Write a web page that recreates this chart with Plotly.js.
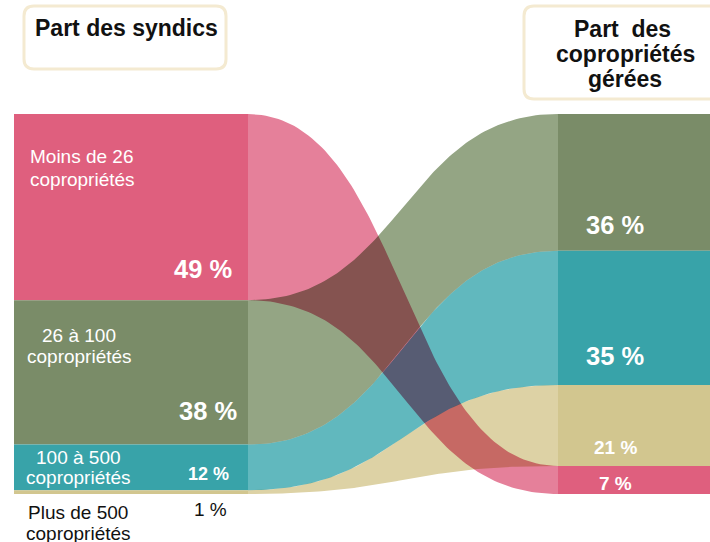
<!DOCTYPE html>
<html><head><meta charset="utf-8">
<script src="https://cdn.plot.ly/plotly-3.0.1.min.js"></script>
<style>
html,body{margin:0;padding:0;background:#fff;}
#chart .scatterlayer .trace{mix-blend-mode:multiply;}
</style></head>
<body><div id="chart" style="width:710px;height:542px;"></div>
<script>
// ---- DATA ----
const categories = ["Moins de 26 copropriétés", "26 à 100 copropriétés", "100 à 500 copropriétés", "Plus de 500 copropriétés"];
const syndicShare = [49, 38, 12, 1];            // % of syndics (left column)
const syndicLabels = ["49 %", "38 %", "12 %", "1 %"];
const coproShare = [7.4, 36, 35.3, 21.3];       // % of managed co-ownerships (right column)
const coproLabels = ["7 %", "36 %", "35 %", "21 %"];
const rightOrder = [1, 2, 3, 0];                // stacking order, top to bottom, of the right column
const nodeColors = ["#DF5F7E", "#7A8C68", "#38A3A9", "#D2C68F"];
const flowColors = ["#E5809A", "#94A584", "#61B8BE", "#DDD2A5"];

// ---- LAYOUT CONSTANTS (pixels) ----
const W = 710, H = 542;
const TOP = 114, PX_PER_PCT = 3.8;
const L0 = 14, L1 = 248, R0 = 558, R1 = 760;
const FN = "'Liberation Sans', Arial, Helvetica, sans-serif";

// cumulative starts
const leftTop = [];
let acc = 0;
for (let i = 0; i < syndicShare.length; i++) { leftTop.push(acc); acc += syndicShare[i]; }
const rightTop = new Array(coproShare.length);
acc = 0;
rightOrder.forEach(i => { rightTop[i] = acc; acc += coproShare[i]; });

const traces = [];
// left nodes
traces.push({
  type: 'bar', x: categories.map(() => (L0 + L1) / 2), base: leftTop, y: syndicShare,
  width: categories.map(() => L1 - L0), marker: { color: nodeColors, line: { width: 0 } },
  hoverinfo: 'skip', showlegend: false
});
// right nodes
traces.push({
  type: 'bar', x: categories.map(() => (R0 + R1) / 2), base: rightTop, y: coproShare,
  width: categories.map(() => R1 - R0), marker: { color: nodeColors, line: { width: 0 } },
  hoverinfo: 'skip', showlegend: false
});
// flows (cubic Bezier ribbons, horizontal tangents at both ends)
const XM = (L1 + R0) / 2;
function bez(p0, p1, p2, p3, t) { const u = 1 - t; return p0 * u * u * u + 3 * p1 * t * u * u + 3 * p2 * t * t * u + p3 * t * t * t; }
const N = 100;
for (let i = 0; i < categories.length; i++) {
  const xs = [], ys = [];
  const a0 = leftTop[i], a1 = leftTop[i] + syndicShare[i];
  const b0 = rightTop[i], b1 = rightTop[i] + coproShare[i];
  for (let k = 0; k <= N; k++) { const t = k / N; xs.push(bez(L1, XM, XM, R0, t)); ys.push(bez(a0, a0, b0, b0, t)); }
  for (let k = N; k >= 0; k--) { const t = k / N; xs.push(bez(L1, XM, XM, R0, t)); ys.push(bez(a1, a1, b1, b1, t)); }
  traces.push({
    type: 'scatter', mode: 'lines', x: xs, y: ys, fill: 'toself', fillcolor: flowColors[i],
    line: { width: 0, color: flowColors[i] }, hoverinfo: 'skip', showlegend: false
  });
}

// ---- annotations ----
const py = y => 1 - y / H;
function ann(text, x, y, o) {
  o = o || {};
  return Object.assign({
    text: text, x: x, y: py(y), xref: 'x', yref: 'paper', showarrow: false,
    xanchor: 'center', yanchor: 'middle',
    font: Object.assign({ family: FN, size: 19, color: '#ffffff' }, o.font || {})
  }, o.pos || {});
}
const TF = { size: 23, color: '#111', weight: 'bold' };
const BIG = { size: 25.5, weight: 'bold' };
const SMALL = { size: 19, weight: 'bold' };
const annotations = [
  ann("Part des syndics", 126, 28, { font: TF }),
  ann("Part\u00a0 des", 622, 29, { font: TF }),
  ann("copropriétés", 625, 54, { font: TF }),
  ann("gérées", 625, 79, { font: TF }),

  ann("Moins de 26", 28, 157, { pos: { xanchor: 'left' } }),
  ann("copropriétés", 28, 179.5, { pos: { xanchor: 'left' } }),
  ann("26 à 100", 79, 335),
  ann("copropriétés", 79, 356),
  ann("100 à 500", 78, 457.5),
  ann("copropriétés", 78, 477.5),
  ann("Plus de 500", 78, 512.5, { font: { color: '#111' } }),
  ann("copropriétés", 78, 533, { font: { color: '#111' } }),

  ann(syndicLabels[0], 234, 269, { pos: { xanchor: 'right' }, font: BIG }),
  ann(syndicLabels[1], 239, 411, { pos: { xanchor: 'right' }, font: BIG }),
  ann(syndicLabels[2], 231, 473.5, { pos: { xanchor: 'right' }, font: { size: 18, weight: 'bold' } }),
  ann(syndicLabels[3], 210, 509, { font: { size: 19, color: '#111' } }),

  ann(coproLabels[1], 615, 225, { font: BIG }),
  ann(coproLabels[2], 615, 355.5, { font: BIG }),
  ann(coproLabels[3], 615, 447.5, { font: SMALL }),
  ann(coproLabels[0], 615, 483, { font: SMALL })
];

// rounded title boxes (paper coordinates)
function rr(x0, y0, x1, y1, r) {
  const X = x => (x / W).toFixed(5), Y = y => py(y).toFixed(5);
  return `M ${X(x0 + r)} ${Y(y0)} L ${X(x1 - r)} ${Y(y0)} Q ${X(x1)} ${Y(y0)} ${X(x1)} ${Y(y0 + r)} ` +
    `L ${X(x1)} ${Y(y1 - r)} Q ${X(x1)} ${Y(y1)} ${X(x1 - r)} ${Y(y1)} L ${X(x0 + r)} ${Y(y1)} ` +
    `Q ${X(x0)} ${Y(y1)} ${X(x0)} ${Y(y1 - r)} L ${X(x0)} ${Y(y0 + r)} Q ${X(x0)} ${Y(y0)} ${X(x0 + r)} ${Y(y0)} Z`;
}
const shapes = [
  { type: 'path', xref: 'paper', yref: 'paper', path: rr(24, 6, 226, 69, 10), line: { color: '#F4EAD1', width: 3 }, fillcolor: 'rgba(0,0,0,0)', layer: 'above' },
  { type: 'path', xref: 'paper', yref: 'paper', path: rr(524, 6, 740, 99, 10), line: { color: '#F4EAD1', width: 3 }, fillcolor: 'rgba(0,0,0,0)', layer: 'above' }
];

const layout = {
  width: W, height: H, margin: { l: 0, r: 0, t: 0, b: 0 },
  paper_bgcolor: '#fff', plot_bgcolor: '#fff',
  barmode: 'overlay', showlegend: false,
  xaxis: { range: [0, W], visible: false, fixedrange: true },
  yaxis: { range: [(H - TOP) / PX_PER_PCT, -TOP / PX_PER_PCT], visible: false, fixedrange: true },
  annotations: annotations, shapes: shapes
};
Plotly.newPlot('chart', traces, layout, { displayModeBar: false, staticPlot: true });
</script></body></html>
